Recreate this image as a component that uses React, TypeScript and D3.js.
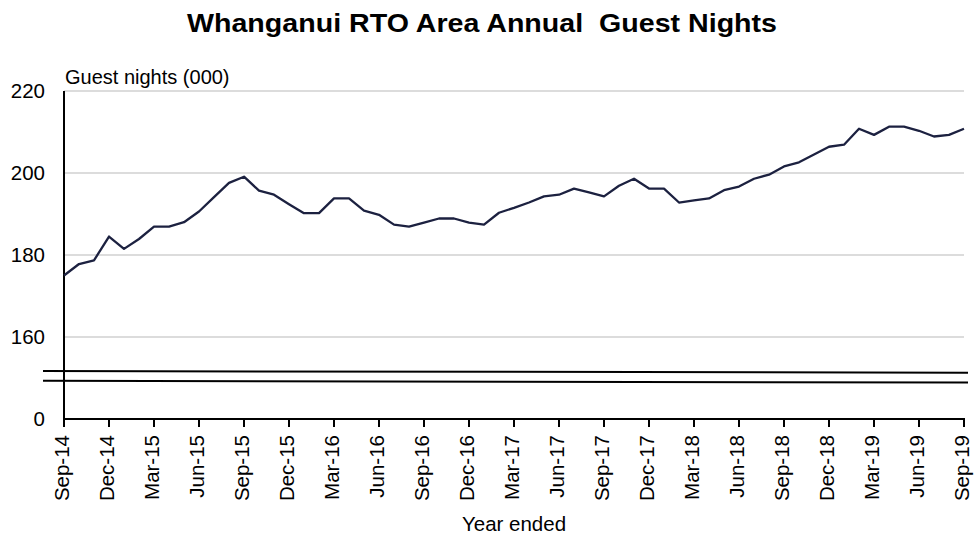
import React from "react";
import * as d3 from "d3";

const title = "Whanganui RTO Area Annual  Guest Nights";
const yAxisTitle = "Guest nights (000)";
const xAxisTitle = "Year ended";

const xTickLabels = [
  "Sep-14", "Dec-14", "Mar-15", "Jun-15", "Sep-15", "Dec-15", "Mar-16",
  "Jun-16", "Sep-16", "Dec-16", "Mar-17", "Jun-17", "Sep-17", "Dec-17",
  "Mar-18", "Jun-18", "Sep-18", "Dec-18", "Mar-19", "Jun-19", "Sep-19",
];

// Monthly values, Sep-14 .. Sep-19 (thousands)
const guestNights = [
  175.0, 177.8, 178.7, 184.5, 181.5, 183.9, 186.9, 186.9, 188.0, 190.6,
  194.1, 197.6, 199.1, 195.7, 194.7, 192.4, 190.2, 190.2, 193.8, 193.8,
  190.8, 189.8, 187.4, 186.9, 187.9, 188.9, 188.9, 187.9, 187.4, 190.3,
  191.5, 192.8, 194.3, 194.7, 196.2, 195.3, 194.3, 196.9, 198.6, 196.2,
  196.2, 192.8, 193.3, 193.8, 195.8, 196.7, 198.6, 199.6, 201.6, 202.6,
  204.5, 206.4, 206.9, 210.8, 209.3, 211.3, 211.3, 210.3, 208.9, 209.3,
  210.8,
];

// Broken axis: the bottom tick shows "0" at the position of 140
const yTickValues = [140, 160, 180, 200, 220];
const yTickLabels = ["0", "160", "180", "200", "220"];
const gridValues = [160, 180, 200, 220];
// axis-break marker lines (value at left end, value at right end)
const breakLines = [
  [151.7, 151.3],
  [149.3, 148.9],
];

const W = 978;
const H = 539;
const FONT = "'Liberation Sans', Arial, Helvetica, sans-serif";

export default function App() {
  const x = d3.scaleLinear().domain([0, guestNights.length - 1]).range([64, 964]);
  const y = d3.scaleLinear().domain([140, 220]).range([419, 91]);

  const line = d3
    .line<number>()
    .x((_, i) => x(i))
    .y((d) => y(d));

  const tickIdx = xTickLabels.map((_, i) => i * 3);

  return (
    <svg
      width={W}
      height={H}
      style={{ position: "absolute", left: 0, top: 0, background: "#fff" }}
      fontFamily={FONT}
    >
      <rect x={0} y={0} width={W} height={H} fill="#fff" />
      <text
        x={482}
        y={32}
        textAnchor="middle"
        fontSize={26}
        fontWeight="bold"
        textLength={590}
        lengthAdjust="spacingAndGlyphs"
        fill="#000"
        style={{ whiteSpace: "pre" }}
      >
        {title}
      </text>

      {/* gridlines */}
      {gridValues.map((v) => (
        <line key={v} x1={x(0)} x2={x(guestNights.length - 1)} y1={y(v)} y2={y(v)} stroke="#d0d0d0" strokeWidth={1.5} />
      ))}

      {/* y tick labels */}
      {yTickValues.map((v, i) => (
        <text key={v} x={45} y={y(v)} dy="0.36em" textAnchor="end" fontSize={20.5} fill="#000">
          {yTickLabels[i]}
        </text>
      ))}

      <text x={65} y={84} fontSize={20} fill="#000">
        {yAxisTitle}
      </text>

      {/* axes */}
      <line x1={x(0)} x2={x(0)} y1={y(220)} y2={y(140)} stroke="#000" strokeWidth={2} />
      <line x1={x(0) - 1} x2={x(guestNights.length - 1) + 1} y1={y(140)} y2={y(140)} stroke="#000" strokeWidth={2} />
      {tickIdx.map((t) => (
        <line key={t} x1={x(t)} x2={x(t)} y1={y(140)} y2={y(140) + 8} stroke="#000" strokeWidth={2} />
      ))}

      {/* break markers */}
      {breakLines.map((b, i) => (
        <line key={i} x1={43} x2={968} y1={y(b[0])} y2={y(b[1])} stroke="#000" strokeWidth={2} />
      ))}

      {/* x tick labels */}
      {xTickLabels.map((lab, i) => (
        <text
          key={lab}
          transform={`translate(${x(tickIdx[i]) + 5},435) rotate(-90)`}
          textAnchor="end"
          fontSize={20.5}
          fill="#000"
        >
          {lab}
        </text>
      ))}

      <text x={514} y={531} textAnchor="middle" fontSize={20.5} fill="#000">
        {xAxisTitle}
      </text>

      <path d={line(guestNights) ?? ""} fill="none" stroke="#1c2140" strokeWidth={2.3} strokeLinejoin="round" />
    </svg>
  );
}
